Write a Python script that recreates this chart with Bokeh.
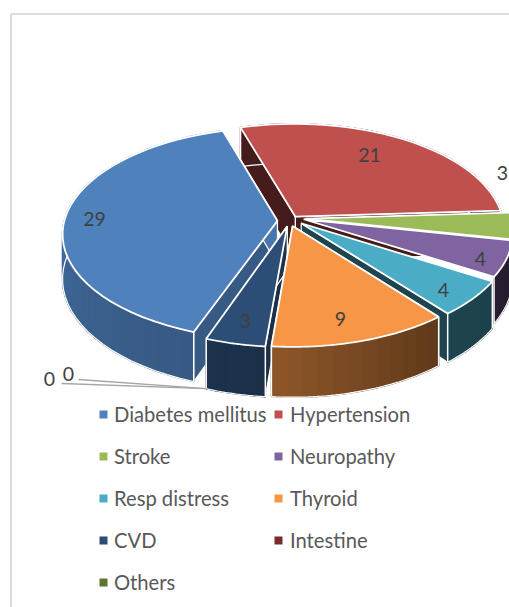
import numpy as np
from bokeh.plotting import figure
from bokeh.embed import file_html
from bokeh.resources import INLINE
from bokeh.core.properties import value

# ---- data ----
categories = ["Diabetes mellitus", "Hypertension", "Stroke", "Neuropathy", "Resp distress",
              "Thyroid", "CVD", "Intestine", "Others"]
counts = [29, 21, 3, 4, 4, 9, 3, 0, 0]
colors = ["#4f81bd", "#c0504d", "#9bbb59", "#8064a2", "#4bacc6", "#f79646", "#2c4d75", "#772c2a", "#5f7530"]

# ---- layout / style ----
START = 200.0      # first slice start angle, clockwise from the far side
CX, CY = 289.0, 220.5
R, KR, T, DEPTH = 208.0, 105.0, 0.12, 44.0
EXPLODE = {0: .058, 1: .05, 2: .08, 3: .07, 4: .06, 5: .05, 6: .05}
EXPLODE_TILT = {2: -20.0, 3: -35.0, 4: -20.0}      # direction change of a slice's pull-out, degrees
STRETCH_X = {0: 1.025}         # horizontal stretch of a slice
NO_END_WALL = {2, 3}           # slices whose closing radial wall is not seen
NO_START_WALL = {2, 3, 4}      # slices whose opening radial wall is not seen
WALL_SHADE = {0: (.70, .92), 1: (.36, .36), 2: (.40, .40), 3: (.30, .30), 4: (.38, .40),
              5: (.39, .57), 6: (.62, .66)}
PAINT_ORDER = [1, 2, 3, 4, 0, 6, 5]
LABEL_XY = {0: (94, 218), 1: (369, 154), 2: (502, 172), 3: (480, 258), 4: (443, 289),
            5: (340, 318), 6: (245, 320), 7: (68, 373), 8: (49, 378)}
LEGEND_ROWS = [414, 456, 498, 540, 582]
LEGEND_COLS = [(103, 113.5), (278, 289.5)]
TEXT = "#595959"
LABEL = "#404040"
FONT = "Lato"


def proj(x, y, z=0.0):
    p = 1.0 / (1.0 + T * y)
    return CX + R * x * p, CY - KR * y * p + DEPTH * z * p


def shade(col, f):
    r, g, b = (int(col[i:i + 2], 16) for i in (1, 3, 5))
    return "#%02x%02x%02x" % (int(r * f), int(g * f), int(b * f))


p = figure(width=509, height=607, x_range=(0, 509), y_range=(607, 0), output_backend="svg",
           toolbar_location=None, min_border=0, outline_line_color=None)
p.xaxis.visible = False
p.yaxis.visible = False
p.grid.visible = False

# chart area border
p.line(x=[10.5, 10.5, 520], y=[620, 13.5, 13.5], line_color="#dcdcdc", line_width=2)

total = sum(counts)
edges = START + np.concatenate([[0], np.cumsum(counts)]) * 360.0 / total

for i in PAINT_ORDER:
    a0, a1 = edges[i], edges[i + 1]
    bis = np.radians((a0 + a1) / 2 + EXPLODE_TILT.get(i, 0.0))
    ox, oy = EXPLODE[i] * np.sin(bis), EXPLODE[i] * np.cos(bis)
    sx_ = STRETCH_X.get(i, 1.0)
    th = np.radians(np.linspace(a0, a1, 41))
    ux, uy = ox + sx_ * np.sin(th), oy + np.cos(th)
    col = colors[i]
    f0, f1 = WALL_SHADE[i]

    # radial walls
    for side, t_ in enumerate((th[0], th[-1])):
        if (side == 1 and i in NO_END_WALL) or (side == 0 and i in NO_START_WALL):
            continue
        ex, ey = ox + sx_ * np.sin(t_), oy + np.cos(t_)
        pts = [proj(ox, oy), proj(ex, ey), proj(ex, ey, 1), proj(ox, oy, 1)]
        p.patch([q[0] for q in pts], [q[1] for q in pts],
                fill_color=shade(col, f1 if side else f0),
                line_color="white", line_width=1.2)

    # outer wall, shaded strip by strip
    n = max(6, int((a1 - a0) / 3.5))
    tw = np.radians(np.linspace(a0, a1, n + 1))
    wx, wy = ox + sx_ * np.sin(tw), oy + np.cos(tw)
    for j in range(n):
        pts = [proj(wx[j], wy[j]), proj(wx[j + 1], wy[j + 1]),
               proj(wx[j + 1], wy[j + 1], 1), proj(wx[j], wy[j], 1)]
        c = shade(col, f0 + (f1 - f0) * j / max(n - 1, 1))
        p.patch([q[0] for q in pts], [q[1] for q in pts], fill_color=c, line_color=c, line_width=1.5)
    bx, by = proj(ux, uy, 1)
    p.line(bx, by, line_color="white", line_width=1.2)
    for k in (0, -1):
        qx, qy = zip(proj(ux[k], uy[k]), proj(ux[k], uy[k], 1))
        p.line(list(qx), list(qy), line_color="white", line_width=1.5)

    # top face
    tx, ty = proj(ux, uy)
    ax, ay = proj(ox, oy)
    p.patch(np.r_[ax, tx], np.r_[ay, ty], fill_color=col, line_color="white", line_width=1.8)

# leader lines of the two empty slices
a = np.radians(edges[7])
bis6 = np.radians((edges[6] + edges[7]) / 2)
lx, ly = proj(EXPLODE[6] * np.sin(bis6) + np.sin(a), EXPLODE[6] * np.cos(bis6) + np.cos(a), 1)
for k in (7, 8):
    sx, sy = LABEL_XY[k]
    p.line([sx + (10 if k == 7 else 12), lx], [sy + 6 if k == 7 else sy + 5, ly],
           line_color="#a6a6a6", line_width=1.3)

# data labels
order = list(LABEL_XY)
p.text(x=[LABEL_XY[k][0] for k in order], y=[LABEL_XY[k][1] for k in order],
       text=[str(counts[k]) for k in order], text_font=value(FONT), text_font_size="19.5px",
       text_color=LABEL, text_align="center", text_baseline="middle")

# legend
for i, name in enumerate(categories):
    row = LEGEND_ROWS[i // 2]
    mx, tx_ = LEGEND_COLS[i % 2]
    p.scatter([mx], [row], marker="square", size=8, fill_color=colors[i], line_color=None)
    p.text(x=[tx_], y=[row - 1], text=[name], text_font=value(FONT), text_font_size="20.2px",
           text_color=TEXT, text_align="left", text_baseline="middle")

open("out.html", "w").write(file_html(p, INLINE))
